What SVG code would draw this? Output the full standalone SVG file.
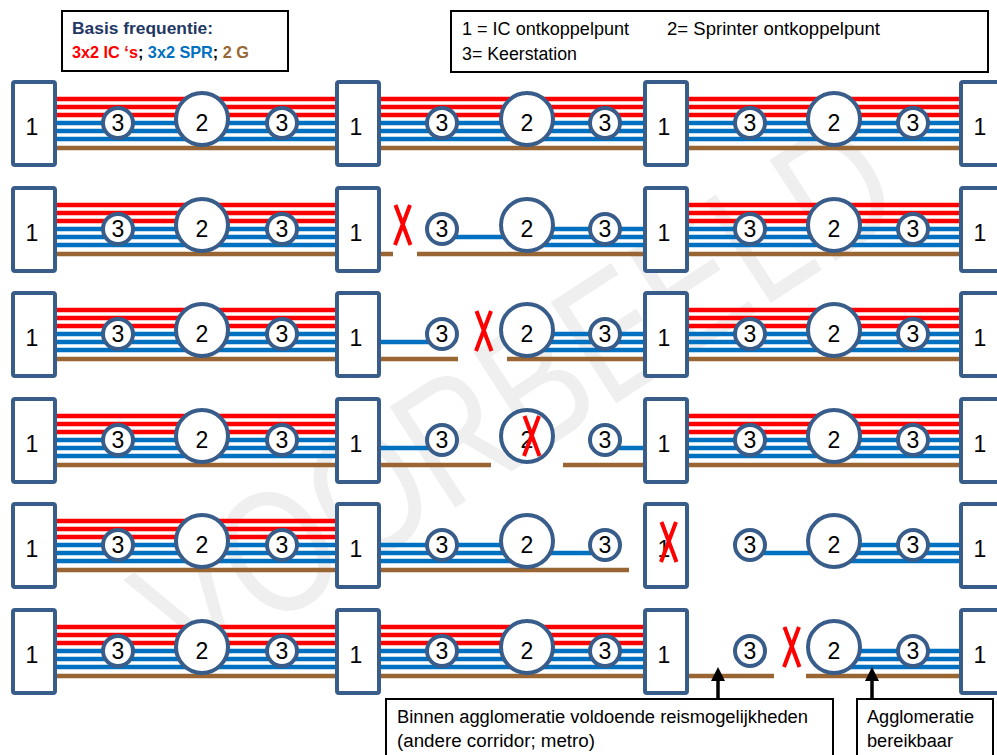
<svg xmlns="http://www.w3.org/2000/svg" width="997" height="755" viewBox="0 0 997 755">
<style>
.bx{fill:#fff;stroke:#385D8A;stroke-width:4}
.nd{fill:#fff;stroke:#385D8A;stroke-width:4}
.num{font-family:"Liberation Sans",Arial,sans-serif;font-size:23px;text-anchor:middle;fill:#000}
.red{stroke:#FF0000;stroke-width:4.5;fill:none}
.blue{stroke:#0070C0;stroke-width:4.5;fill:none}
.brown{stroke:#996633;stroke-width:4.5;fill:none}
.xm{stroke:#FF0000;stroke-width:4;fill:none}
.lg{fill:#fff;stroke:#000;stroke-width:2}
.t{font-family:"Liberation Sans",Arial,sans-serif;font-size:18px;fill:#000}
.tb{font-family:"Liberation Sans",Arial,sans-serif;font-size:16.5px;font-weight:bold}
.arr{stroke:#000;stroke-width:3.5;fill:none;marker-end:url(#ah)}
</style>
<defs>
<marker id="ah" viewBox="0 0 14 14" refX="2" refY="7" markerWidth="14" markerHeight="14" markerUnits="userSpaceOnUse" orient="auto">
<path d="M0,0 L14,7 L0,14 z" fill="#000"/>
</marker>
<path id="xshape" d="M1.5 0 L16.5 40 M16 0 L1 40"/>
</defs>
<rect width="997" height="755" fill="#fff"/>
<g id="watermark">
<text transform="translate(515,395) rotate(-33)" x="0" y="62" text-anchor="middle" font-family="'Liberation Sans',Arial,sans-serif" font-size="175" textLength="860" lengthAdjust="spacingAndGlyphs" fill="#efefef">VOORBEELD</text>
</g>
<g id="connectors">
<g transform="translate(0,82)">
<path class="red" d="M34 17H982M34 25H982M34 33H982"/>
<path class="blue" d="M34 41H982M34 49H982M34 57H982"/>
<path class="brown" d="M34 66H982"/>
</g>
<g transform="translate(0,188)">
<path class="red" d="M34 17H358M34 25H358M34 33H358M666 17H982M666 25H982M666 33H982"/>
<path class="blue" d="M34 41H358M34 49H358M34 57H358M442 49H527M527 41H982M527 49H982M527 57H982"/>
<path class="brown" d="M34 66H393M417 66H982"/>
</g>
<g transform="translate(0,293)">
<path class="red" d="M34 17H358M34 25H358M34 33H358M666 17H982M666 25H982M666 33H982"/>
<path class="blue" d="M34 41H358M34 49H442M34 57H358M527 41H982M527 49H982M527 57H982"/>
<path class="brown" d="M34 66H458M507 66H982"/>
</g>
<g transform="translate(0,399)">
<path class="red" d="M34 17H358M34 25H358M34 33H358M666 17H982M666 25H982M666 33H982"/>
<path class="blue" d="M34 41H358M34 49H442M34 57H358M605 49H982M666 41H982M666 57H982"/>
<path class="brown" d="M34 66H491M563 66H982"/>
</g>
<g transform="translate(0,504)">
<path class="red" d="M34 17H358M34 25H358M34 33H358"/>
<path class="blue" d="M34 41H527M34 49H605M34 57H527M750 49H982M834 41H982M834 57H982"/>
<path class="brown" d="M34 66H629"/>
</g>
<g transform="translate(0,610)">
<path class="red" d="M34 17H666M34 25H666M34 33H666"/>
<path class="blue" d="M34 41H666M34 49H666M34 57H666M834 41H982M834 49H982M834 57H982"/>
<path class="brown" d="M34 66H774M806 66H982"/>
</g>
<path class="arr" d="M718 699V679"/>
<path class="arr" d="M872 699V679"/>
</g>

<g id="row1" transform="translate(0,82)">
<g id="r1-b1"><rect class="bx" x="13" y="0" width="42" height="83" rx="2"/><text class="num" x="32" y="53">1</text></g>
<g id="r1-k1"><circle class="nd" cx="118" cy="41" r="15"/><text class="num" x="118" y="49">3</text></g>
<g id="r1-s1"><circle class="nd" cx="202" cy="37" r="26"/><text class="num" x="202" y="49">2</text></g>
<g id="r1-k2"><circle class="nd" cx="282" cy="41" r="15"/><text class="num" x="282" y="49">3</text></g>
<g id="r1-b2"><rect class="bx" x="337" y="0" width="42" height="83" rx="2"/><text class="num" x="356" y="53">1</text></g>
<g id="r1-k3"><circle class="nd" cx="442" cy="41" r="15"/><text class="num" x="442" y="49">3</text></g>
<g id="r1-s2"><circle class="nd" cx="527" cy="37" r="26"/><text class="num" x="527" y="49">2</text></g>
<g id="r1-k4"><circle class="nd" cx="605" cy="41" r="15"/><text class="num" x="605" y="49">3</text></g>
<g id="r1-b3"><rect class="bx" x="645" y="0" width="42" height="83" rx="2"/><text class="num" x="664" y="53">1</text></g>
<g id="r1-k5"><circle class="nd" cx="750" cy="41" r="15"/><text class="num" x="750" y="49">3</text></g>
<g id="r1-s3"><circle class="nd" cx="834" cy="37" r="26"/><text class="num" x="834" y="49">2</text></g>
<g id="r1-k6"><circle class="nd" cx="913" cy="41" r="15"/><text class="num" x="913" y="49">3</text></g>
<g id="r1-b4"><rect class="bx" x="961" y="0" width="42" height="83" rx="2"/><text class="num" x="980" y="53">1</text></g>
</g>

<g id="row2" transform="translate(0,188)">
<g id="r2-b1"><rect class="bx" x="13" y="0" width="42" height="83" rx="2"/><text class="num" x="32" y="53">1</text></g>
<g id="r2-k1"><circle class="nd" cx="118" cy="41" r="15"/><text class="num" x="118" y="49">3</text></g>
<g id="r2-s1"><circle class="nd" cx="202" cy="37" r="26"/><text class="num" x="202" y="49">2</text></g>
<g id="r2-k2"><circle class="nd" cx="282" cy="41" r="15"/><text class="num" x="282" y="49">3</text></g>
<g id="r2-b2"><rect class="bx" x="337" y="0" width="42" height="83" rx="2"/><text class="num" x="356" y="53">1</text></g>
<g id="r2-k3"><circle class="nd" cx="442" cy="41" r="15"/><text class="num" x="442" y="49">3</text></g>
<g id="r2-s2"><circle class="nd" cx="527" cy="37" r="26"/><text class="num" x="527" y="49">2</text></g>
<g id="r2-k4"><circle class="nd" cx="605" cy="41" r="15"/><text class="num" x="605" y="49">3</text></g>
<g id="r2-b3"><rect class="bx" x="645" y="0" width="42" height="83" rx="2"/><text class="num" x="664" y="53">1</text></g>
<g id="r2-k5"><circle class="nd" cx="750" cy="41" r="15"/><text class="num" x="750" y="49">3</text></g>
<g id="r2-s3"><circle class="nd" cx="834" cy="37" r="26"/><text class="num" x="834" y="49">2</text></g>
<g id="r2-k6"><circle class="nd" cx="913" cy="41" r="15"/><text class="num" x="913" y="49">3</text></g>
<g id="r2-b4"><rect class="bx" x="961" y="0" width="42" height="83" rx="2"/><text class="num" x="980" y="53">1</text></g>
</g>

<g id="row3" transform="translate(0,293)">
<g id="r3-b1"><rect class="bx" x="13" y="0" width="42" height="83" rx="2"/><text class="num" x="32" y="53">1</text></g>
<g id="r3-k1"><circle class="nd" cx="118" cy="41" r="15"/><text class="num" x="118" y="49">3</text></g>
<g id="r3-s1"><circle class="nd" cx="202" cy="37" r="26"/><text class="num" x="202" y="49">2</text></g>
<g id="r3-k2"><circle class="nd" cx="282" cy="41" r="15"/><text class="num" x="282" y="49">3</text></g>
<g id="r3-b2"><rect class="bx" x="337" y="0" width="42" height="83" rx="2"/><text class="num" x="356" y="53">1</text></g>
<g id="r3-k3"><circle class="nd" cx="442" cy="41" r="15"/><text class="num" x="442" y="49">3</text></g>
<g id="r3-s2"><circle class="nd" cx="527" cy="37" r="26"/><text class="num" x="527" y="49">2</text></g>
<g id="r3-k4"><circle class="nd" cx="605" cy="41" r="15"/><text class="num" x="605" y="49">3</text></g>
<g id="r3-b3"><rect class="bx" x="645" y="0" width="42" height="83" rx="2"/><text class="num" x="664" y="53">1</text></g>
<g id="r3-k5"><circle class="nd" cx="750" cy="41" r="15"/><text class="num" x="750" y="49">3</text></g>
<g id="r3-s3"><circle class="nd" cx="834" cy="37" r="26"/><text class="num" x="834" y="49">2</text></g>
<g id="r3-k6"><circle class="nd" cx="913" cy="41" r="15"/><text class="num" x="913" y="49">3</text></g>
<g id="r3-b4"><rect class="bx" x="961" y="0" width="42" height="83" rx="2"/><text class="num" x="980" y="53">1</text></g>
</g>

<g id="row4" transform="translate(0,399)">
<g id="r4-b1"><rect class="bx" x="13" y="0" width="42" height="83" rx="2"/><text class="num" x="32" y="53">1</text></g>
<g id="r4-k1"><circle class="nd" cx="118" cy="41" r="15"/><text class="num" x="118" y="49">3</text></g>
<g id="r4-s1"><circle class="nd" cx="202" cy="37" r="26"/><text class="num" x="202" y="49">2</text></g>
<g id="r4-k2"><circle class="nd" cx="282" cy="41" r="15"/><text class="num" x="282" y="49">3</text></g>
<g id="r4-b2"><rect class="bx" x="337" y="0" width="42" height="83" rx="2"/><text class="num" x="356" y="53">1</text></g>
<g id="r4-k3"><circle class="nd" cx="442" cy="41" r="15"/><text class="num" x="442" y="49">3</text></g>
<g id="r4-s2"><circle class="nd" cx="527" cy="37" r="26"/><text class="num" x="527" y="49">2</text></g>
<g id="r4-k4"><circle class="nd" cx="605" cy="41" r="15"/><text class="num" x="605" y="49">3</text></g>
<g id="r4-b3"><rect class="bx" x="645" y="0" width="42" height="83" rx="2"/><text class="num" x="664" y="53">1</text></g>
<g id="r4-k5"><circle class="nd" cx="750" cy="41" r="15"/><text class="num" x="750" y="49">3</text></g>
<g id="r4-s3"><circle class="nd" cx="834" cy="37" r="26"/><text class="num" x="834" y="49">2</text></g>
<g id="r4-k6"><circle class="nd" cx="913" cy="41" r="15"/><text class="num" x="913" y="49">3</text></g>
<g id="r4-b4"><rect class="bx" x="961" y="0" width="42" height="83" rx="2"/><text class="num" x="980" y="53">1</text></g>
</g>

<g id="row5" transform="translate(0,504)">
<g id="r5-b1"><rect class="bx" x="13" y="0" width="42" height="83" rx="2"/><text class="num" x="32" y="53">1</text></g>
<g id="r5-k1"><circle class="nd" cx="118" cy="41" r="15"/><text class="num" x="118" y="49">3</text></g>
<g id="r5-s1"><circle class="nd" cx="202" cy="37" r="26"/><text class="num" x="202" y="49">2</text></g>
<g id="r5-k2"><circle class="nd" cx="282" cy="41" r="15"/><text class="num" x="282" y="49">3</text></g>
<g id="r5-b2"><rect class="bx" x="337" y="0" width="42" height="83" rx="2"/><text class="num" x="356" y="53">1</text></g>
<g id="r5-k3"><circle class="nd" cx="442" cy="41" r="15"/><text class="num" x="442" y="49">3</text></g>
<g id="r5-s2"><circle class="nd" cx="527" cy="37" r="26"/><text class="num" x="527" y="49">2</text></g>
<g id="r5-k4"><circle class="nd" cx="605" cy="41" r="15"/><text class="num" x="605" y="49">3</text></g>
<g id="r5-b3"><rect class="bx" x="645" y="0" width="42" height="83" rx="2"/><text class="num" x="664" y="53">1</text></g>
<g id="r5-k5"><circle class="nd" cx="750" cy="41" r="15"/><text class="num" x="750" y="49">3</text></g>
<g id="r5-s3"><circle class="nd" cx="834" cy="37" r="26"/><text class="num" x="834" y="49">2</text></g>
<g id="r5-k6"><circle class="nd" cx="913" cy="41" r="15"/><text class="num" x="913" y="49">3</text></g>
<g id="r5-b4"><rect class="bx" x="961" y="0" width="42" height="83" rx="2"/><text class="num" x="980" y="53">1</text></g>
</g>

<g id="row6" transform="translate(0,610)">
<g id="r6-b1"><rect class="bx" x="13" y="0" width="42" height="83" rx="2"/><text class="num" x="32" y="53">1</text></g>
<g id="r6-k1"><circle class="nd" cx="118" cy="41" r="15"/><text class="num" x="118" y="49">3</text></g>
<g id="r6-s1"><circle class="nd" cx="202" cy="37" r="26"/><text class="num" x="202" y="49">2</text></g>
<g id="r6-k2"><circle class="nd" cx="282" cy="41" r="15"/><text class="num" x="282" y="49">3</text></g>
<g id="r6-b2"><rect class="bx" x="337" y="0" width="42" height="83" rx="2"/><text class="num" x="356" y="53">1</text></g>
<g id="r6-k3"><circle class="nd" cx="442" cy="41" r="15"/><text class="num" x="442" y="49">3</text></g>
<g id="r6-s2"><circle class="nd" cx="527" cy="37" r="26"/><text class="num" x="527" y="49">2</text></g>
<g id="r6-k4"><circle class="nd" cx="605" cy="41" r="15"/><text class="num" x="605" y="49">3</text></g>
<g id="r6-b3"><rect class="bx" x="645" y="0" width="42" height="83" rx="2"/><text class="num" x="664" y="53">1</text></g>
<g id="r6-k5"><circle class="nd" cx="750" cy="41" r="15"/><text class="num" x="750" y="49">3</text></g>
<g id="r6-s3"><circle class="nd" cx="834" cy="37" r="26"/><text class="num" x="834" y="49">2</text></g>
<g id="r6-k6"><circle class="nd" cx="913" cy="41" r="15"/><text class="num" x="913" y="49">3</text></g>
<g id="r6-b4"><rect class="bx" x="961" y="0" width="42" height="83" rx="2"/><text class="num" x="980" y="53">1</text></g>
</g>

<g id="breaks">
<use href="#xshape" class="xm" x="394" y="205"/>
<use href="#xshape" class="xm" x="475" y="311"/>
<use href="#xshape" class="xm" x="523" y="416"/>
<use href="#xshape" class="xm" x="660" y="522"/>
<use href="#xshape" class="xm" x="783" y="627"/>
</g>

<g id="legend-frequency">
<rect class="lg" x="62" y="11" width="226" height="60"/>
<text class="tb" x="72" y="34" fill="#1F3864" textLength="141" lengthAdjust="spacingAndGlyphs">Basis frequentie:</text>
<text class="tb" x="72" y="58" textLength="177" lengthAdjust="spacingAndGlyphs"><tspan fill="#FF0000">3x2 IC ‘s</tspan><tspan fill="#000">; </tspan><tspan fill="#0070C0">3x2 SPR</tspan><tspan fill="#000">; </tspan><tspan fill="#996633">2 G</tspan></text>
</g>

<g id="legend-keys">
<rect class="lg" x="451" y="11" width="537" height="61"/>
<text class="t" x="462" y="35" textLength="167" lengthAdjust="spacingAndGlyphs">1 = IC ontkoppelpunt</text>
<text class="t" x="667" y="35" textLength="213" lengthAdjust="spacingAndGlyphs">2= Sprinter ontkoppelpunt</text>
<text class="t" x="462" y="60" textLength="115" lengthAdjust="spacingAndGlyphs">3= Keerstation</text>
</g>

<g id="label-agglomeratie-reis">
<rect class="lg" x="386" y="699" width="447" height="70"/>
<text class="t" x="397" y="723" textLength="411" lengthAdjust="spacingAndGlyphs">Binnen agglomeratie voldoende reismogelijkheden</text>
<text class="t" x="397" y="747" textLength="198" lengthAdjust="spacingAndGlyphs">(andere corridor; metro)</text>
</g>

<g id="label-bereikbaar">
<rect class="lg" x="857" y="699" width="136" height="70"/>
<text class="t" x="867" y="723" textLength="107" lengthAdjust="spacingAndGlyphs">Agglomeratie</text>
<text class="t" x="867" y="747" textLength="86" lengthAdjust="spacingAndGlyphs">bereikbaar</text>
</g>
</svg>
